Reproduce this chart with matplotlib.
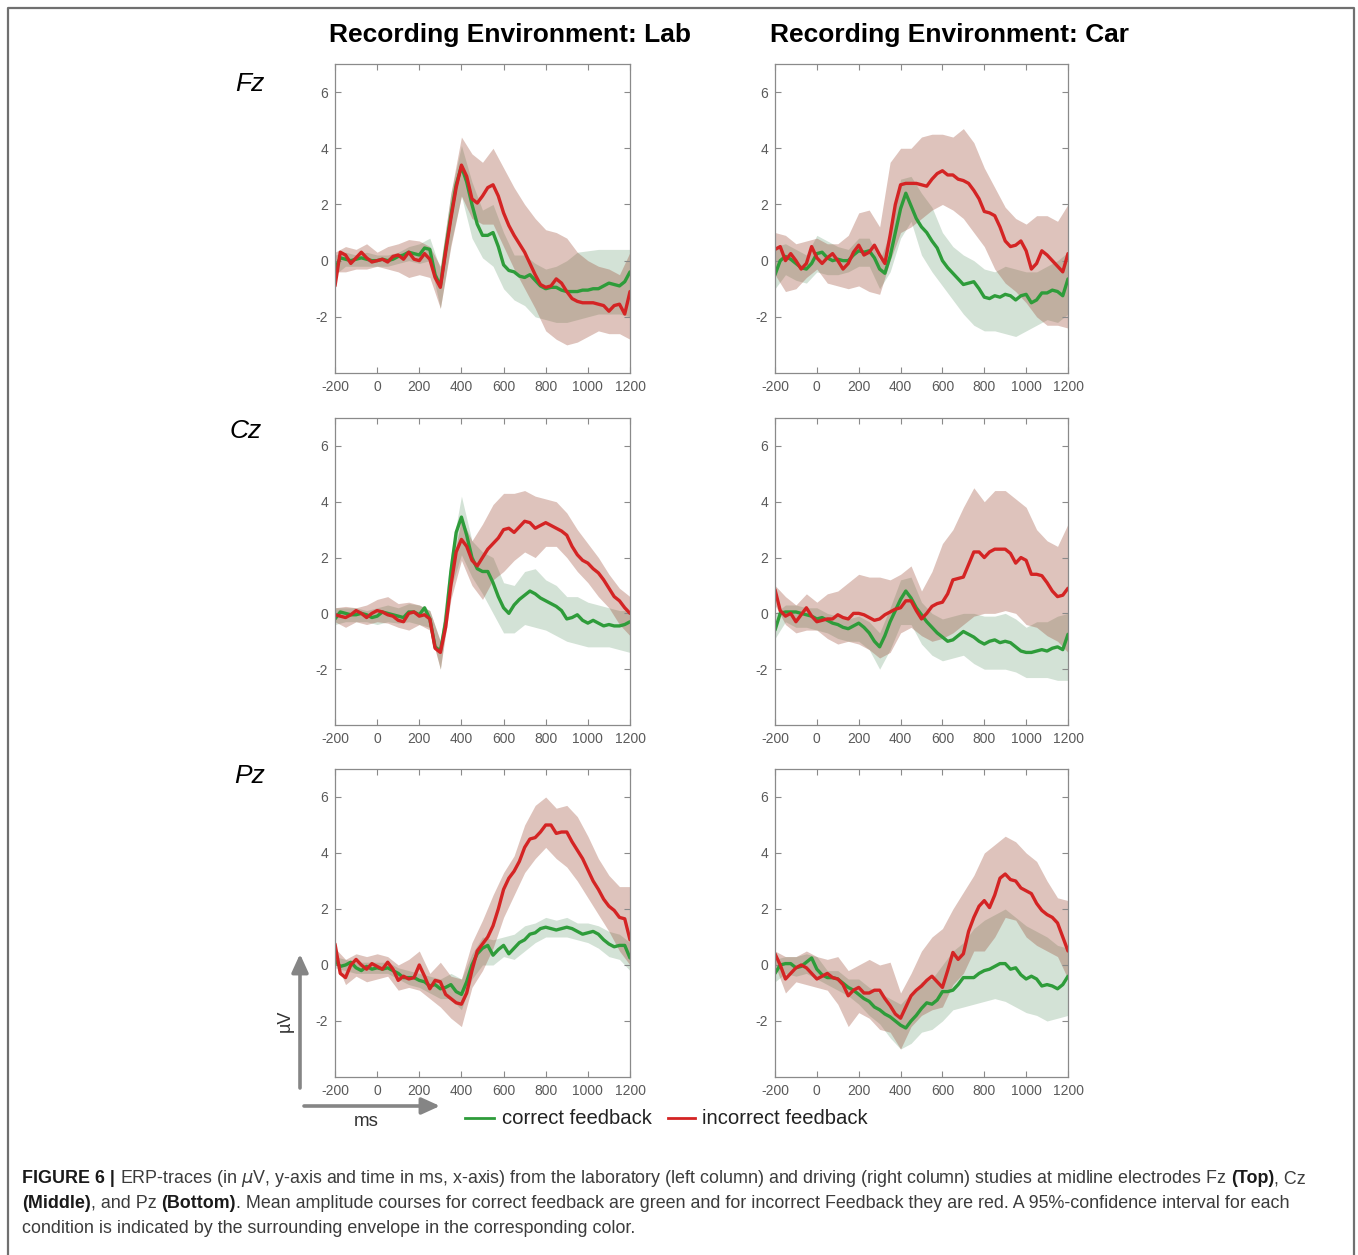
import matplotlib
matplotlib.use("Agg")
import matplotlib.pyplot as plt
import numpy as np

plt.rcParams['font.family'] = ['Liberation Sans', 'DejaVu Sans']
plt.rcParams['axes.unicode_minus'] = False

# time axes (ms): means sampled every 25 ms, confidence bands every 50 ms
t_mean = np.arange(-200, 1201, 25)
t_band = np.arange(-200, 1201, 50)

# ---------------- Fz, Lab ----------------
fz_lab_cor = [-0.3, 0.1, 0.05, 0.0, 0.05, 0.1, 0.05, 0.0, 0.0, 0.05, 0.0, 0.05, 0.15, 0.2, 0.3, 0.25, 0.2,
              0.45, 0.4, -0.5, -0.9, 0.4, 1.6, 2.7, 3.35, 2.8, 2.0, 1.3, 0.9, 0.9, 1.0, 0.5, -0.15, -0.35,
              -0.4, -0.55, -0.6, -0.5, -0.7, -0.9, -1.0, -0.95, -0.95, -1.05, -1.1, -1.1, -1.1, -1.05, -1.05,
              -1.0, -1.0, -0.9, -0.8, -0.85, -0.9, -0.75, -0.4]
fz_lab_inc = [-0.9, 0.3, 0.2, -0.1, 0.1, 0.3, 0.1, -0.05, 0.0, 0.05, -0.05, 0.15, 0.2, 0.05, 0.3, 0.05, 0.0,
              0.25, 0.05, -0.6, -0.95, 0.3, 1.5, 2.6, 3.4, 3.0, 2.2, 2.05, 2.3, 2.6, 2.7, 2.3, 1.7, 1.25,
              0.9, 0.6, 0.3, -0.1, -0.5, -0.85, -0.95, -0.9, -0.65, -0.8, -1.1, -1.35, -1.45, -1.5, -1.5,
              -1.5, -1.55, -1.6, -1.8, -1.6, -1.55, -1.9, -1.1]
fz_lab_cor_hi = [0.2, 0.3, 0.2, 0.3, 0.2, 0.2, 0.3, 0.5, 0.6, 0.8, -0.3, 2.4, 4.1, 2.8, 1.8, 2.0, 1.0, 0.2,
                 0.2, -0.1, -0.3, -0.2, 0.0, 0.3, 0.35, 0.4, 0.4, 0.4, 0.4]
fz_lab_cor_lo = [-0.5, -0.2, -0.2, -0.2, -0.2, -0.2, -0.1, 0.0, -0.1, 0.0, -1.7, 0.6, 2.3, 0.8, 0.1, -0.2,
                 -1.0, -1.4, -1.6, -2.0, -2.1, -2.2, -2.2, -2.1, -2.0, -1.9, -1.9, -1.9, -2.0]
fz_lab_inc_hi = [0.3, 0.5, 0.4, 0.6, 0.3, 0.5, 0.6, 0.75, 0.7, 0.5, -0.2, 2.4, 4.4, 3.8, 3.5, 4.0, 3.3, 2.6,
                 2.0, 1.5, 1.1, 1.0, 0.8, 0.3, 0.0, -0.2, -0.3, -0.5, 0.3]
fz_lab_inc_lo = [-0.4, -0.4, -0.3, -0.3, -0.2, -0.3, -0.4, -0.6, -0.5, -0.6, -1.7, 0.5, 2.3, 1.5, 1.3, 1.3,
                 0.5, -0.3, -1.0, -1.7, -2.5, -2.8, -3.0, -2.9, -2.7, -2.5, -2.6, -2.6, -2.8]

# ---------------- Fz, Car ----------------
fz_car_cor = [-0.5, 0.0, 0.15, 0.05, -0.1, -0.25, -0.3, -0.1, 0.25, 0.3, 0.1, 0.0, 0.05, 0.0, 0.0, 0.2, 0.35,
              0.3, 0.35, 0.1, -0.3, -0.45, 0.15, 1.0, 1.85, 2.4, 1.95, 1.5, 1.2, 1.0, 0.7, 0.45, 0.0, -0.25,
              -0.45, -0.65, -0.85, -0.8, -0.75, -1.0, -1.3, -1.35, -1.25, -1.3, -1.2, -1.25, -1.4, -1.25,
              -1.2, -1.5, -1.4, -1.15, -1.15, -1.05, -1.1, -1.25, -0.65]
fz_car_inc = [0.4, 0.5, 0.0, 0.25, 0.0, -0.3, -0.1, 0.5, 0.1, -0.1, 0.1, 0.25, 0.0, -0.3, -0.1, 0.3, 0.55,
              0.2, 0.3, 0.55, 0.2, -0.1, 0.9, 2.0, 2.7, 2.75, 2.75, 2.75, 2.7, 2.65, 2.9, 3.1, 3.2, 3.05,
              3.05, 2.9, 2.85, 2.75, 2.5, 2.2, 1.75, 1.7, 1.6, 1.2, 0.7, 0.5, 0.55, 0.7, 0.35, -0.3, -0.1,
              0.35, 0.2, 0.0, -0.2, -0.4, 0.25]
fz_car_cor_hi = [0.5, 0.6, 0.4, 0.2, 0.9, 0.7, 0.5, 0.4, 0.8, 0.8, 0.0, 1.0, 2.9, 3.0, 2.4, 1.9, 1.0, 0.5,
                 0.2, 0.0, -0.3, -0.4, -0.2, -0.3, -0.4, -0.4, -0.2, 0.0, 0.3]
fz_car_cor_lo = [-1.0, -0.5, -0.7, -0.8, -0.4, -0.5, -0.5, -0.4, -0.2, -0.2, -1.0, -0.4, 0.8, 1.4, 0.2,
                 -0.4, -0.9, -1.4, -1.9, -2.3, -2.5, -2.5, -2.6, -2.7, -2.5, -2.3, -2.1, -2.2, -1.9]
fz_car_inc_hi = [1.0, 0.9, 0.6, 0.7, 0.8, 0.6, 0.6, 0.9, 1.7, 1.8, 1.2, 3.5, 4.0, 4.0, 4.4, 4.5, 4.5, 4.4,
                 4.7, 4.2, 3.3, 2.6, 1.9, 1.5, 1.3, 1.6, 1.6, 1.4, 2.0]
fz_car_inc_lo = [-0.5, -1.1, -1.0, -0.6, -0.3, -0.8, -0.9, -1.0, -0.9, -1.1, -1.2, 0.0, 1.0, 1.2, 1.5, 1.8,
                 2.0, 1.8, 1.5, 1.0, 0.5, -0.3, -0.8, -1.1, -1.5, -2.0, -2.3, -2.3, -2.4]

# ---------------- Cz, Lab ----------------
cz_lab_cor = [-0.2, 0.05, 0.0, -0.05, -0.05, 0.0, -0.05, -0.15, -0.1, 0.05, 0.0, -0.05, -0.1, -0.15, 0.05,
              0.05, -0.05, 0.2, -0.2, -1.2, -1.35, -0.3, 1.5, 2.9, 3.45, 2.8, 2.0, 1.6, 1.5, 1.5, 1.1, 0.6,
              0.2, 0.0, 0.3, 0.5, 0.65, 0.8, 0.7, 0.55, 0.45, 0.35, 0.25, 0.1, -0.2, -0.15, -0.05, -0.25,
              -0.35, -0.25, -0.35, -0.45, -0.4, -0.45, -0.45, -0.4, -0.3]
cz_lab_inc = [-0.05, -0.1, -0.15, -0.05, 0.1, 0.0, -0.15, 0.0, 0.1, 0.05, -0.05, -0.1, -0.25, -0.3, 0.0,
              0.05, -0.1, -0.05, -0.2, -1.25, -1.4, -0.5, 1.0, 2.2, 2.65, 2.4, 1.9, 1.7, 2.0, 2.3, 2.5, 2.7,
              3.0, 3.05, 2.9, 3.1, 3.3, 3.25, 3.05, 3.15, 3.25, 3.15, 3.05, 2.95, 2.8, 2.4, 2.1, 1.9, 1.8,
              1.6, 1.45, 1.2, 0.9, 0.6, 0.45, 0.2, 0.0]
cz_lab_cor_hi = [0.2, 0.2, 0.2, 0.1, 0.2, 0.3, 0.2, 0.35, 0.3, 0.1, -1.0, 2.1, 4.2, 2.6, 2.2, 2.0, 1.1, 1.0,
                 1.5, 1.6, 1.2, 1.0, 0.6, 0.6, 0.4, 0.3, 0.2, 0.1, 0.1]
cz_lab_cor_lo = [-0.4, -0.3, -0.3, -0.3, -0.4, -0.3, -0.35, -0.3, -0.4, -0.5, -2.0, 0.9, 2.1, 1.3, 0.7, 0.0,
                 -0.7, -0.7, -0.4, -0.5, -0.6, -0.8, -1.0, -1.1, -1.2, -1.2, -1.2, -1.3, -1.4]
cz_lab_inc_hi = [0.2, 0.25, 0.2, 0.3, 0.5, 0.6, 0.35, 0.4, 0.3, 0.1, -1.0, 1.5, 3.4, 2.6, 3.2, 3.9, 4.3, 4.3,
                 4.4, 4.2, 4.1, 4.0, 3.6, 3.0, 2.5, 2.0, 1.4, 0.9, 0.6]
cz_lab_inc_lo = [-0.3, -0.5, -0.3, -0.4, -0.3, -0.35, -0.5, -0.6, -0.4, -0.6, -2.0, 0.5, 1.9, 1.0, 0.5, 1.2,
                 1.5, 1.9, 2.2, 2.0, 2.4, 2.4, 2.0, 1.5, 1.1, 0.6, 0.2, -0.4, -0.8]

# ---------------- Cz, Car ----------------
cz_car_cor = [-0.6, 0.0, 0.05, 0.05, 0.05, 0.0, -0.05, -0.1, -0.2, -0.15, -0.25, -0.35, -0.4, -0.5, -0.55,
              -0.45, -0.35, -0.5, -0.7, -1.0, -1.2, -0.8, -0.3, 0.1, 0.5, 0.8, 0.55, 0.2, -0.05, -0.3, -0.5,
              -0.7, -0.85, -1.0, -0.95, -0.8, -0.65, -0.75, -0.85, -1.0, -1.1, -1.0, -0.95, -1.05, -1.0,
              -1.05, -1.2, -1.35, -1.4, -1.4, -1.35, -1.3, -1.35, -1.25, -1.2, -1.3, -0.75]
cz_car_inc = [0.85, 0.1, -0.1, 0.0, -0.3, -0.05, 0.2, -0.1, -0.3, -0.25, -0.2, -0.2, -0.05, -0.15, -0.2,
              0.0, 0.0, -0.05, -0.15, -0.25, -0.2, -0.05, 0.05, 0.15, 0.2, 0.45, 0.45, 0.1, -0.2, 0.0, 0.25,
              0.35, 0.4, 0.7, 1.2, 1.25, 1.3, 1.75, 2.2, 2.2, 2.0, 2.2, 2.3, 2.3, 2.3, 2.15, 1.8, 2.0, 1.9,
              1.4, 1.4, 1.35, 1.1, 0.8, 0.6, 0.65, 0.9]
cz_car_cor_hi = [0.0, 0.3, 0.3, 0.2, 0.2, 0.0, -0.1, -0.2, -0.1, -0.3, -0.7, 0.2, 1.2, 1.3, 0.4, 0.0, -0.2,
                 -0.1, 0.0, 0.0, -0.1, -0.1, 0.0, -0.2, -0.5, -0.3, -0.3, -0.1, 0.0]
cz_car_cor_lo = [-0.9, -0.3, -0.5, -0.5, -0.6, -0.7, -0.9, -1.0, -1.0, -1.3, -2.0, -1.3, -0.4, -0.4, -1.1,
                 -1.5, -1.7, -1.6, -1.5, -1.8, -2.0, -2.0, -2.0, -2.1, -2.3, -2.3, -2.3, -2.4, -2.4]
cz_car_inc_hi = [1.0, 0.6, 0.3, 0.7, 0.4, 0.7, 0.8, 1.1, 1.4, 1.3, 1.3, 1.2, 1.4, 1.7, 0.8, 1.5, 2.5, 3.0,
                 3.8, 4.5, 4.0, 4.4, 4.4, 4.1, 3.8, 3.0, 2.6, 2.4, 3.2]
cz_car_inc_lo = [0.3, -0.4, -0.7, -0.6, -0.6, -0.9, -1.1, -1.0, -1.1, -1.3, -1.6, -1.4, -0.7, -0.5, -0.8,
                 -1.0, -0.9, -0.7, -0.4, -0.1, 0.0, 0.0, 0.1, 0.0, -0.4, -0.5, -0.8, -1.0, -1.4]

# ---------------- Pz, Lab ----------------
pz_lab_cor = [0.15, -0.05, 0.0, 0.1, -0.1, -0.2, -0.05, -0.15, -0.1, -0.15, -0.1, -0.2, -0.3, -0.45, -0.45,
              -0.45, -0.55, -0.6, -0.75, -0.7, -0.85, -0.8, -0.7, -0.95, -1.05, -0.6, 0.0, 0.4, 0.6, 0.7,
              0.35, 0.55, 0.7, 0.4, 0.6, 0.8, 0.9, 1.1, 1.15, 1.3, 1.35, 1.3, 1.25, 1.3, 1.35, 1.3, 1.2,
              1.1, 1.15, 1.2, 1.1, 0.9, 0.75, 0.65, 0.7, 0.7, 0.25]
pz_lab_inc = [0.75, -0.3, -0.45, 0.0, 0.2, 0.0, -0.15, 0.05, -0.05, -0.15, 0.1, -0.15, -0.55, -0.4, -0.5,
              -0.45, 0.0, -0.4, -0.85, -0.55, -0.6, -1.05, -1.2, -1.35, -1.4, -1.0, -0.2, 0.5, 0.75, 1.0,
              1.4, 2.0, 2.7, 3.1, 3.35, 3.7, 4.2, 4.5, 4.55, 4.75, 5.0, 5.0, 4.7, 4.75, 4.75, 4.4, 4.1, 3.8,
              3.4, 3.0, 2.7, 2.35, 2.1, 1.95, 1.7, 1.65, 0.9]
pz_lab_cor_hi = [0.3, 0.2, 0.1, 0.1, 0.1, 0.1, -0.1, -0.2, -0.3, -0.4, -0.5, -0.3, -0.5, 0.4, 1.0, 0.9, 1.0,
                 1.1, 1.4, 1.5, 1.7, 1.6, 1.7, 1.5, 1.5, 1.4, 1.2, 1.1, 0.8]
pz_lab_cor_lo = [-0.1, -0.2, -0.3, -0.3, -0.3, -0.3, -0.5, -0.7, -0.8, -1.0, -1.2, -1.2, -1.6, -0.5, 0.0,
                 0.0, 0.3, 0.2, 0.5, 0.8, 1.0, 1.0, 1.0, 0.9, 0.8, 0.6, 0.3, 0.2, -0.2]
pz_lab_inc_hi = [0.6, 0.2, 0.4, 0.3, 0.4, 0.3, 0.0, 0.2, 0.5, -0.3, 0.1, -0.4, -0.5, 0.8, 1.6, 2.5, 3.3,
                 3.9, 5.0, 5.7, 6.0, 5.6, 5.7, 5.3, 4.6, 3.8, 3.2, 2.8, 2.8]
pz_lab_inc_lo = [0.2, -0.7, -0.4, -0.6, -0.5, -0.4, -0.9, -0.8, -0.9, -1.2, -1.5, -1.9, -2.2, -0.8, -0.2,
                 0.6, 1.7, 2.5, 3.3, 3.8, 4.2, 3.8, 3.5, 3.0, 2.4, 1.8, 1.2, 0.5, 0.0]

# ---------------- Pz, Car ----------------
pz_car_cor = [-0.3, 0.0, 0.05, 0.05, -0.1, -0.05, 0.1, 0.25, -0.15, -0.35, -0.45, -0.45, -0.5, -0.65, -0.8,
              -0.9, -1.05, -1.2, -1.3, -1.5, -1.6, -1.75, -1.85, -2.0, -2.15, -2.25, -2.0, -1.8, -1.55,
              -1.35, -1.4, -1.25, -0.95, -0.95, -0.9, -0.7, -0.45, -0.45, -0.45, -0.3, -0.2, -0.15, -0.05,
              0.05, 0.05, -0.15, -0.1, -0.35, -0.5, -0.4, -0.5, -0.75, -0.7, -0.75, -0.85, -0.7, -0.4]
pz_car_inc = [0.4, 0.0, -0.5, -0.3, -0.1, 0.0, -0.1, -0.3, -0.5, -0.4, -0.3, -0.45, -0.5, -0.7, -1.1, -0.9,
              -0.8, -1.0, -1.0, -0.9, -0.9, -1.2, -1.45, -1.75, -1.9, -1.5, -1.1, -0.9, -0.75, -0.55, -0.4,
              -0.6, -0.8, -0.2, 0.45, 0.2, 0.4, 1.2, 1.7, 2.1, 2.3, 2.05, 2.5, 3.1, 3.25, 3.05, 3.0, 2.75,
              2.65, 2.55, 2.2, 1.95, 1.8, 1.7, 1.5, 1.0, 0.5]
pz_car_cor_hi = [0.2, 0.3, 0.3, 0.4, 0.3, -0.2, -0.2, -0.5, -0.5, -0.8, -1.0, -1.2, -1.4, -1.0, -0.6, -0.5,
                 0.0, 0.5, 0.8, 1.3, 1.6, 1.8, 2.0, 1.7, 1.4, 1.2, 1.0, 0.7, 0.6]
pz_car_cor_lo = [-0.6, -0.3, -0.4, -0.3, -0.5, -0.7, -0.9, -1.1, -1.4, -1.8, -2.1, -2.6, -3.0, -2.8, -2.4,
                 -2.3, -2.0, -1.6, -1.5, -1.4, -1.3, -1.2, -1.3, -1.5, -1.7, -1.8, -2.0, -1.9, -1.8]
pz_car_inc_hi = [0.5, 0.3, 0.3, 0.5, 0.3, 0.2, 0.3, -0.2, 0.0, 0.2, 0.0, 0.1, -1.0, -0.3, 0.5, 1.0, 1.3,
                 2.0, 2.6, 3.2, 4.0, 4.3, 4.6, 4.4, 4.0, 3.7, 3.0, 2.4, 2.3]
pz_car_inc_lo = [0.0, -1.0, -0.6, -0.7, -0.8, -0.9, -1.4, -2.2, -1.7, -1.9, -2.3, -2.4, -3.0, -2.2, -1.8,
                 -1.6, -1.5, -0.7, -0.3, 0.5, 0.5, 1.0, 1.7, 1.6, 1.0, 0.7, 0.5, 0.3, -0.5]

electrodes = ['Fz', 'Cz', 'Pz']
environments = ['Lab', 'Car']
x_ticks = [-200, 0, 200, 400, 600, 800, 1000, 1200]
y_ticks = [-2, 0, 2, 4, 6]

panels = {
    ('Fz', 'Lab'): (fz_lab_cor, fz_lab_inc, fz_lab_cor_lo, fz_lab_cor_hi, fz_lab_inc_lo, fz_lab_inc_hi),
    ('Fz', 'Car'): (fz_car_cor, fz_car_inc, fz_car_cor_lo, fz_car_cor_hi, fz_car_inc_lo, fz_car_inc_hi),
    ('Cz', 'Lab'): (cz_lab_cor, cz_lab_inc, cz_lab_cor_lo, cz_lab_cor_hi, cz_lab_inc_lo, cz_lab_inc_hi),
    ('Cz', 'Car'): (cz_car_cor, cz_car_inc, cz_car_cor_lo, cz_car_cor_hi, cz_car_inc_lo, cz_car_inc_hi),
    ('Pz', 'Lab'): (pz_lab_cor, pz_lab_inc, pz_lab_cor_lo, pz_lab_cor_hi, pz_lab_inc_lo, pz_lab_inc_hi),
    ('Pz', 'Car'): (pz_car_cor, pz_car_inc, pz_car_cor_lo, pz_car_cor_hi, pz_car_inc_lo, pz_car_inc_hi),
}

GREEN = '#2e9c3a'
RED = '#d42424'
GREEN_BAND = '#7aa883'
RED_BAND = '#9c4a34'

W, H = 1358, 1255
fig = plt.figure(figsize=(W / 100, H / 100), dpi=100)

# overlay in pixel coordinates for the frame, labels and arrows
ov = fig.add_axes([0, 0, 1, 1])
ov.set_xlim(0, W)
ov.set_ylim(H, 0)
ov.axis('off')

# panel boxes in pixels: (left, right) per column, (top, bottom) per row
col_px = {'Lab': (335, 630), 'Car': (775, 1068)}
row_px = {'Fz': (64, 373), 'Cz': (418, 725), 'Pz': (769, 1077)}

for el in electrodes:
    for env in environments:
        l, r = col_px[env]
        tp, bt = row_px[el]
        ax = fig.add_axes([l / W, 1 - bt / H, (r - l) / W, (bt - tp) / H])
        cor, inc, cor_lo, cor_hi, inc_lo, inc_hi = panels[(el, env)]
        ax.fill_between(t_band, cor_lo, cor_hi, color=GREEN_BAND, alpha=0.33, lw=0)
        ax.fill_between(t_band, inc_lo, inc_hi, color=RED_BAND, alpha=0.33, lw=0)
        ax.plot(t_mean, cor, color=GREEN, lw=2.4, solid_joinstyle='round', solid_capstyle='round')
        ax.plot(t_mean, inc, color=RED, lw=2.4, solid_joinstyle='round', solid_capstyle='round')
        ax.set_xlim(-200, 1200)
        ax.set_ylim(-4, 7)
        ax.set_xticks(x_ticks)
        ax.set_yticks(y_ticks)
        ax.tick_params(direction='in', top=True, right=True, length=4, width=0.8,
                       color='#8a8a8a', labelcolor='#5a5a5a', labelsize=10, pad=5)
        for s in ax.spines.values():
            s.set_color('#8a8a8a')
            s.set_linewidth(0.9)

# column titles and row labels
ov.text(510, 35, 'Recording Environment: Lab', fontsize=19, fontweight='bold', ha='center', va='center')
ov.text(950, 35, 'Recording Environment: Car', fontsize=19, fontweight='bold', ha='center', va='center')
for el, (x, y) in zip(electrodes, [(250, 84), (246, 431), (250, 776)]):
    ov.text(x, y, el, fontsize=19, style='italic', ha='center', va='center')

# axis arrows
arrow = dict(arrowstyle='-|>,head_length=0.55,head_width=0.25', color='#858585', lw=2.6,
             mutation_scale=20, shrinkA=0, shrinkB=0)
ov.annotate('', xy=(300, 954), xytext=(300, 1088), arrowprops=arrow)
ov.annotate('', xy=(440, 1106), xytext=(304, 1106), arrowprops=arrow)
ov.text(285, 1021, 'µV', rotation=90, fontsize=13, color='#333333', ha='center', va='center')
ov.text(366, 1122, 'ms', fontsize=13.5, color='#333333', ha='center', va='center')

# legend
ov.plot([465, 494], [1118, 1118], color=GREEN, lw=2)
ov.text(502, 1118, 'correct feedback', fontsize=14.6, color='#222222', ha='left', va='center')
ov.plot([668, 695], [1118, 1118], color=RED, lw=2)
ov.text(702, 1118, 'incorrect feedback', fontsize=14.6, color='#222222', ha='left', va='center')

# outer frame
ov.plot([8, 8, 1354, 1354], [H, 8, 8, H], color='#707070', lw=1.6, clip_on=False)

# caption, written piece by piece to mix bold and regular text
caption = [
    [('FIGURE 6 |', 'bold'), ' ', ('ERP-traces (in $\\mu$V, y-axis and time in ms, x-axis) from the laboratory '
      '(left column) and driving (right column) studies at midline electrodes Fz', 'normal'),
     ' ', ('(Top)', 'bold'), (', Cz', 'normal')],
    [('(Middle)', 'bold'), (', and Pz', 'normal'), ' ', ('(Bottom)', 'bold'),
     ('. Mean amplitude courses for correct feedback are green and for incorrect Feedback they are red. '
      'A 95%-confidence interval for each', 'normal')],
    [('condition is indicated by the surrounding envelope in the corresponding color.', 'normal')],
]
renderer = fig.canvas.get_renderer()


def piece_width(txt, weight, size):
    t = ov.text(0, 0, txt, fontsize=size, fontweight=weight)
    w = t.get_window_extent(renderer=renderer).width
    t.remove()
    return w


def line_width(pieces, size):
    sp = piece_width('x x', 'normal', size) - piece_width('xx', 'normal', size)
    return sum(sp if isinstance(p, str) else piece_width(p[0], p[1], size) for p in pieces), sp


cap_size = 12
w0, _ = line_width(caption[0], cap_size)
cap_size = cap_size * (1307 - 22) / w0

for pieces, base in zip(caption, [1183, 1208, 1233]):
    x = 22
    _, sp = line_width([], cap_size)
    for p in pieces:
        if isinstance(p, str):
            x += sp
            continue
        txt, weight = p
        col = '#1a1a1a' if weight == 'bold' else '#3c3c3c'
        t = ov.text(x, base, txt, fontsize=cap_size, fontweight=weight, color=col, ha='left', va='baseline')
        x += t.get_window_extent(renderer=renderer).width

fig.savefig('out.png', dpi=100)
